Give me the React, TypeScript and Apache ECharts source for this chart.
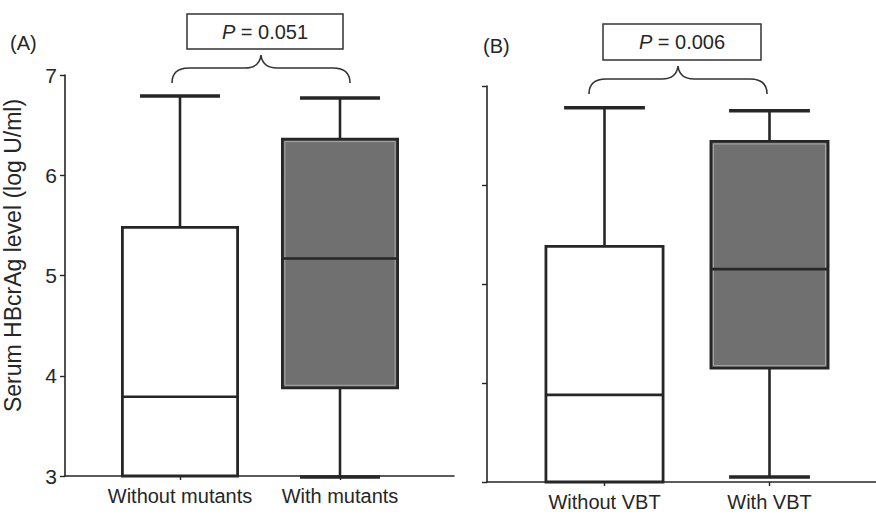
import React, { useEffect, useRef } from "react";
import * as echarts from "echarts";

// ---- data ----
const catsA = ["Without mutants", "With mutants"];
const minA = [3.0, 2.99];
const q1A = [3.0, 3.88];
const medA = [3.79, 5.17];
const q3A = [5.48, 6.36];
const maxA = [6.79, 6.77];

const catsB = ["Without VBT", "With VBT"];
const minB = [3.0, 3.05];
const q1B = [3.0, 4.15];
const medB = [3.88, 5.15];
const q3B = [5.38, 6.44];
const maxB = [6.78, 6.75];

const yTicks = [3, 4, 5, 6, 7];
const pA = "0.051";
const pB = "0.006";
const yTitle = "Serum HBcrAg level (log U/ml)";

// ---- style ----
const FONT = "'Liberation Sans', Arial, Helvetica, sans-serif";
const INK = "#262626";
const BOX_FILLS = ["#ffffff", "#707070"];

const rows = (mins, q1s, meds, q3s, maxs) =>
  mins.map((m, i) => [i, m, q1s[i], meds[i], q3s[i], maxs[i]]);

const renderBox = (boxRatio, capRatio) => (params, api) => {
  const i = api.value(0);
  const band = api.size([1, 0])[0];
  const cx = api.coord([i, 3])[0];
  const y = (v) => api.coord([i, v])[1];
  const vMin = api.value(1), vQ1 = api.value(2), vMed = api.value(3), vQ3 = api.value(4), vMax = api.value(5);
  const bw = band * boxRatio;
  const cw = band * capRatio;
  const children = [];
  const lineStyle = { stroke: INK, lineWidth: 2.6 };
  children.push({ type: "line", shape: { x1: cx, y1: y(vQ3), x2: cx, y2: y(vMax) }, style: lineStyle });
  children.push({ type: "line", shape: { x1: cx - cw / 2, y1: y(vMax), x2: cx + cw / 2, y2: y(vMax) }, style: { stroke: INK, lineWidth: 3.4 } });
  if (vMin < vQ1) {
    children.push({ type: "line", shape: { x1: cx, y1: y(vQ1), x2: cx, y2: y(vMin) }, style: lineStyle });
    children.push({ type: "line", shape: { x1: cx - cw / 2, y1: y(vMin), x2: cx + cw / 2, y2: y(vMin) }, style: { stroke: INK, lineWidth: 3.4 } });
  }
  const top = y(vQ3), bot = y(vQ1);
  children.push({
    type: "rect",
    shape: { x: cx - bw / 2, y: top, width: bw, height: bot - top },
    style: { fill: BOX_FILLS[i], stroke: INK, lineWidth: 2.8 },
  });
  if (i === 1) {
    children.push({
      type: "rect",
      shape: { x: cx - bw / 2 + 2.5, y: top + 2.5, width: bw - 5, height: bot - top - 5 },
      style: { fill: "none", stroke: "#a8a8a8", lineWidth: 1 },
    });
  }
  children.push({ type: "line", shape: { x1: cx - bw / 2, y1: y(vMed), x2: cx + bw / 2, y2: y(vMed) }, style: { stroke: INK, lineWidth: 2.6 } });
  return { type: "group", children };
};

const BRACE_D = "M-89,28 C-89,18 -84,13 -72,13 L-16,13 C-6,13 -1,9 0,0 C1,9 6,13 16,13 L72,13 C84,13 89,18 89,28";

export default function App() {
  const ref = useRef(null);
  useEffect(() => {
    document.body.style.margin = "0";
    try {
      echarts.graphic.registerShape("brace", echarts.graphic.extendPath(BRACE_D, {}));
    } catch (e) {}
    const chart = echarts.init(ref.current, null, { renderer: "svg" });

    const frameY = (showLabels, gridIndex) => ({
      type: "value",
      gridIndex,
      min: 3,
      max: 7,
      interval: 1,
      axisLine: { show: true, lineStyle: { color: INK, width: 1.6 } },
      axisTick: { show: true, inside: false, length: 5, lineStyle: { color: INK, width: 1.4 } },
      axisLabel: {
        show: showLabels,
        fontSize: 21,
        color: INK,
        fontFamily: FONT,
        margin: 8,
        formatter: (v) => (yTicks.includes(v) ? String(v) : ""),
      },
      splitLine: { show: false },
      name: showLabels ? yTitle : "",
      nameLocation: "middle",
      nameGap: 41,
      nameRotate: 90,
      nameTextStyle: { fontSize: 23, color: INK, fontFamily: FONT, padding: [0, 0, 0, 40] },
    });
    const frameX = (gridIndex) => ({
      type: "value",
      gridIndex,
      min: 0,
      max: 1,
      axisLine: { show: true, onZero: false, lineStyle: { color: INK, width: 1.6 } },
      axisTick: { show: false },
      axisLabel: { show: false },
      splitLine: { show: false },
    });
    const boxX = (cats, gridIndex) => ({
      type: "category",
      gridIndex,
      data: cats,
      axisLine: { show: false },
      axisTick: { show: true, alignWithLabel: true, interval: 0, length: 4, lineStyle: { color: INK, width: 1.4 } },
      axisLabel: { interval: 0, fontSize: 20, color: INK, fontFamily: FONT, margin: 10 },
      splitLine: { show: false },
    });
    const boxY = (gridIndex) => ({ type: "value", gridIndex, min: 3, max: 7, show: false });

    chart.setOption({
      animation: false,
      backgroundColor: "#ffffff",
      grid: [
        { left: 64, top: 75, width: 390, height: 401 },
        { left: 100, top: 75, width: 320, height: 401 },
        { left: 487, top: 86, width: 389, height: 396 },
        { left: 522, top: 86, width: 330, height: 396 },
      ],
      xAxis: [frameX(0), boxX(catsA, 1), frameX(2), boxX(catsB, 3)],
      yAxis: [frameY(true, 0), boxY(1), frameY(false, 2), boxY(3)],
      series: [
        {
          type: "custom",
          xAxisIndex: 1,
          yAxisIndex: 1,
          renderItem: renderBox(0.72, 0.5),
          encode: { x: 0, y: [1, 2, 3, 4, 5] },
          data: rows(minA, q1A, medA, q3A, maxA),
          clip: false,
        },
        {
          type: "custom",
          xAxisIndex: 3,
          yAxisIndex: 3,
          renderItem: renderBox(0.71, 0.49),
          encode: { x: 0, y: [1, 2, 3, 4, 5] },
          data: rows(minB, q1B, medB, q3B, maxB),
          clip: false,
        },
      ],
      graphic: [
        { type: "text", left: 10, top: 33, style: { text: "(A)", fontSize: 20, fontFamily: FONT, fill: INK } },
        { type: "text", left: 483, top: 36, style: { text: "(B)", fontSize: 20, fontFamily: FONT, fill: INK } },
        { type: "rect", shape: { x: 187, y: 14, width: 156, height: 35 }, style: { fill: "#fff", stroke: "#333", lineWidth: 1.5 } },
        { type: "rect", shape: { x: 603, y: 24, width: 158, height: 36 }, style: { fill: "#fff", stroke: "#333", lineWidth: 1.5 } },
        {
          type: "text",
          x: 265,
          y: 32,
          style: {
            text: "{i|P} = " + pA,
            fontSize: 20,
            fontFamily: FONT,
            fill: INK,
            align: "center",
            verticalAlign: "middle",
            rich: { i: { fontStyle: "italic", fontSize: 20, fontFamily: FONT, fill: INK } },
          },
        },
        {
          type: "text",
          x: 682,
          y: 42,
          style: {
            text: "{i|P} = " + pB,
            fontSize: 20,
            fontFamily: FONT,
            fill: INK,
            align: "center",
            verticalAlign: "middle",
            rich: { i: { fontStyle: "italic", fontSize: 20, fontFamily: FONT, fill: INK } },
          },
        },
        { type: "brace", x: 261, y: 55, style: { fill: "none", stroke: "#333", lineWidth: 1.6 } },
        { type: "brace", x: 678, y: 66, style: { fill: "none", stroke: "#333", lineWidth: 1.6 } },
      ],
    });
    return () => chart.dispose();
  }, []);
  return <div ref={ref} style={{ width: 876, height: 515 }} />;
}
